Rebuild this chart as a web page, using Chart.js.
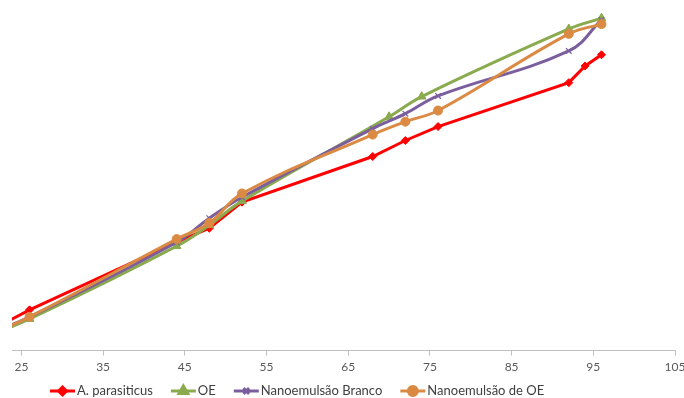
<!DOCTYPE html>
<html>
<head>
<meta charset="utf-8">
<script src="https://cdn.jsdelivr.net/npm/chart.js@4"></script>
<style>
  html, body { margin: 0; padding: 0; background: #fff; }
  #wrap { width: 684px; height: 398px; }
</style>
</head>
<body>
<div id="wrap"><canvas id="chart" width="684" height="398"></canvas></div>
<script>
// tick labels of the x axis
const xTicks = [25, 35, 45, 55, 65, 75, 85, 95, 105]

// series (y axis is cropped out of the picture, values are read as % of plot height)
const seriesNames = ['A. parasiticus', 'OE', 'Nanoemulsão Branco', 'Nanoemulsão de OE']

const xRed = [20, 26, 44, 48, 52, 68, 72, 76, 92, 94, 96]
const yRed = [4.3, 11.7, 31.1, 35.1, 42.6, 55.7, 60.3, 64.3, 76.9, 81.7, 84.9]

const xGreen = [20, 26, 44, 48, 52, 70, 74, 92, 96]
const yGreen = [3.4, 9.1, 30.0, 36.0, 42.9, 67.1, 72.9, 92.3, 95.4]

const xPurple = [20, 26, 44, 48, 52, 68, 72, 76, 92, 96]
const yPurple = [3.7, 9.7, 31.1, 38.0, 44.0, 63.7, 68.0, 73.1, 86.0, 94.9]

const xOrange = [20, 26, 44, 48, 52, 68, 72, 76, 92, 96]
const yOrange = [3.4, 9.7, 32.0, 36.6, 45.1, 62.0, 65.7, 68.9, 90.9, 93.7]

const colors = ['#FF0000', '#8AAA4E', '#7A5E9E', '#DA8A42']
const markers = ['rectRot', 'triangle', 'crossRot', 'circle']
const markerSize = [4, 5, 4, 4.5]

function toPoints(xs, ys) {
    return xs.map((x, i) => ({ x: x, y: ys[i] }))
}

const allX = [xRed, xGreen, xPurple, xOrange]
const allY = [yRed, yGreen, yPurple, yOrange]

const datasets = seriesNames.map((name, i) => ({
    label: name,
    data: toPoints(allX[i], allY[i]),
    borderColor: colors[i],
    backgroundColor: colors[i],
    borderWidth: 3,
    pointStyle: markers[i],
    pointRadius: markerSize[i],
    pointBorderWidth: i === 2 ? 1.2 : 1,
    pointBorderColor: colors[i],
    pointBackgroundColor: colors[i],
    tension: i === 0 ? 0 : 0.4,
    order: 4 - i, // later series drawn on top, like the original
    fill: false
}))

// legend drawn by hand so it can sit where the original one does
const legendPlugin = {
    id: 'lineLegend',
    afterDraw(chart) {
        const ctx = chart.ctx
        ctx.save()
        ctx.font = '13px Lato, "Open Sans", sans-serif'
        ctx.textBaseline = 'middle'
        let x = 50
        const y = 391
        chart.data.datasets.forEach((ds, i) => {
            ctx.strokeStyle = colors[i]
            ctx.lineWidth = 3
            ctx.beginPath()
            ctx.moveTo(x, y)
            ctx.lineTo(x + 25, y)
            ctx.stroke()
            ctx.fillStyle = colors[i]
            ctx.strokeStyle = colors[i]
            Chart.helpers.drawPoint(ctx, {
                pointStyle: markers[i],
                radius: markerSize[i],
                borderWidth: 1
            }, x + 12.5, y)
            ctx.fillStyle = '#404040'
            ctx.fillText(ds.label, x + 27, y)
            x += 27 + ctx.measureText(ds.label).width + 18
        })
        ctx.restore()
    }
}

const ctx = document.getElementById('chart').getContext('2d')
new Chart(ctx, {
    type: 'line',
    data: { datasets: datasets },
    options: {
        responsive: false,
        animation: false,
        layout: {
            padding: { left: 12, right: 9, top: 0, bottom: 20 }
        },
        plugins: {
            legend: { display: false },
            tooltip: { enabled: false }
        },
        scales: {
            x: {
                type: 'linear',
                min: 23.85,
                max: 105,
                afterBuildTicks: (scale) => {
                    scale.ticks = xTicks.map(v => ({ value: v }))
                },
                afterFit: (scale) => {
                    scale.paddingLeft = 0
                    scale.paddingRight = 0
                },
                border: { display: true, color: '#BFBFBF', width: 1 },
                grid: {
                    drawOnChartArea: false,
                    drawTicks: true,
                    tickLength: 5,
                    color: '#BFBFBF'
                },
                ticks: {
                    color: '#595959',
                    font: { family: 'Lato, "Open Sans", sans-serif', size: 12 },
                    padding: 4,
                    maxRotation: 0,
                    autoSkip: false
                }
            },
            y: {
                display: false,
                min: 0,
                max: 98.9
            }
        }
    },
    plugins: [legendPlugin]
})
</script>
</body>
</html>
